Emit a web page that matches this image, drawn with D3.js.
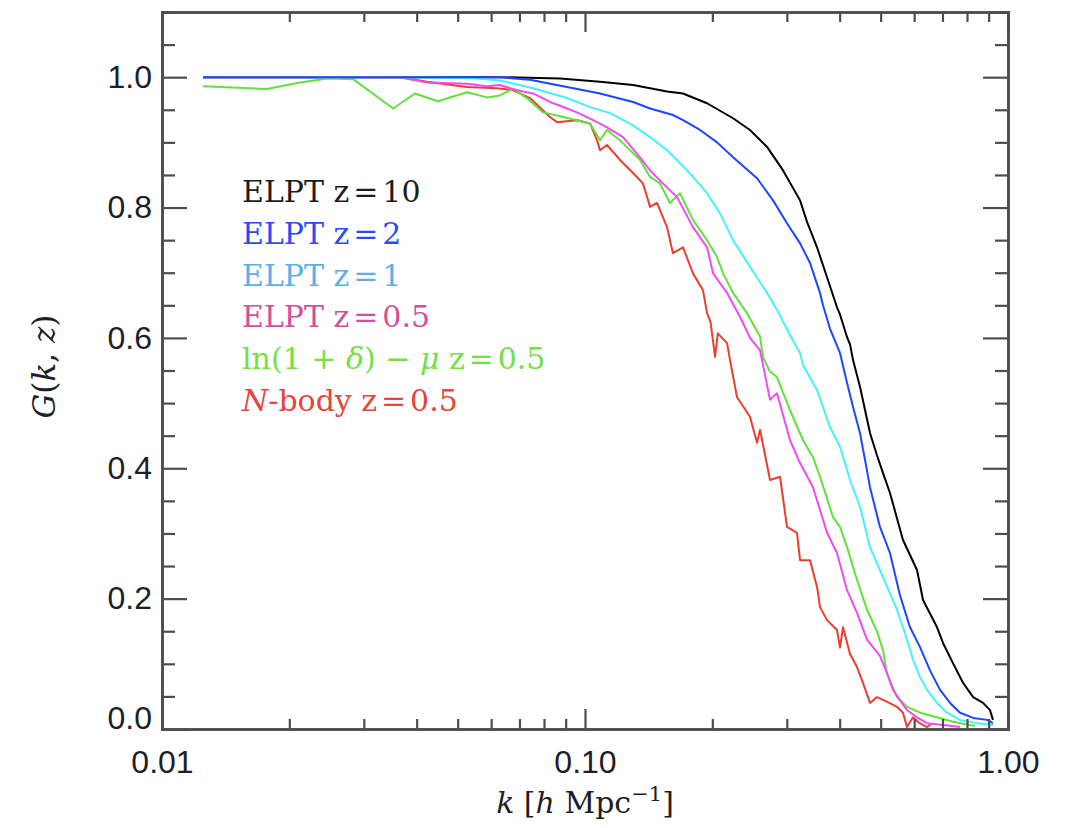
<!DOCTYPE html>
<html>
<head>
<meta charset="utf-8">
<script src="https://cdn.jsdelivr.net/npm/d3@7"></script>
<style>
  body { margin: 0; background: #ffffff; }
  text { white-space: pre; }
</style>
</head>
<body>
<svg id="chart" width="1070" height="828"></svg>
<script>
// Growth/propagator ratio G(k, z) versus wavenumber k [h/Mpc], one [k, G] list per model.
const elpt10 = [[0.0125,1.000],[0.0365,1.000],[0.0629,1.000],[0.0873,0.998],[0.1085,0.993],[0.1299,0.988],[0.1563,0.978],[0.1705,0.975],[0.1943,0.960],[0.2239,0.937],[0.2455,0.919],[0.2694,0.893],[0.2939,0.857],[0.3224,0.811],[0.3349,0.778],[0.3536,0.739],[0.3734,0.693],[0.3942,0.647],[0.4007,0.636],[0.4164,0.601],[0.4232,0.590],[0.4302,0.566],[0.4468,0.525],[0.4718,0.454],[0.4900,0.420],[0.5063,0.393],[0.5260,0.362],[0.5646,0.290],[0.6094,0.244],[0.6297,0.198],[0.6796,0.156],[0.7020,0.132],[0.7410,0.101],[0.7828,0.071],[0.8270,0.049],[0.8729,0.040],[0.9066,0.029],[0.9215,0.014]];

const elpt2 = [[0.0125,1.000],[0.0365,1.000],[0.0629,1.000],[0.0741,0.996],[0.0907,0.985],[0.1085,0.975],[0.1299,0.962],[0.1425,0.952],[0.1614,0.942],[0.1705,0.934],[0.1870,0.919],[0.2052,0.900],[0.2239,0.877],[0.2551,0.845],[0.2783,0.811],[0.3003,0.776],[0.3224,0.745],[0.3404,0.715],[0.3594,0.669],[0.3653,0.650],[0.3795,0.614],[0.4007,0.577],[0.4164,0.531],[0.4302,0.494],[0.4468,0.454],[0.4600,0.410],[0.4718,0.371],[0.4981,0.310],[0.5260,0.270],[0.5555,0.205],[0.5866,0.156],[0.6190,0.126],[0.6541,0.090],[0.6908,0.060],[0.7294,0.040],[0.7701,0.025],[0.8270,0.017],[0.8920,0.014],[0.9215,0.009]];

const elpt1 = [[0.0125,1.000],[0.0365,1.000],[0.0526,0.999],[0.0629,0.995],[0.0754,0.983],[0.0907,0.968],[0.1028,0.954],[0.1146,0.945],[0.1299,0.926],[0.1425,0.908],[0.1563,0.888],[0.1650,0.873],[0.1800,0.847],[0.1943,0.822],[0.2085,0.791],[0.2239,0.750],[0.2455,0.709],[0.2694,0.669],[0.2844,0.643],[0.3053,0.604],[0.3224,0.577],[0.3277,0.558],[0.3536,0.520],[0.3795,0.463],[0.4007,0.433],[0.4232,0.382],[0.4468,0.341],[0.4718,0.279],[0.5063,0.233],[0.5465,0.183],[0.5771,0.137],[0.5963,0.106],[0.6194,0.080],[0.6435,0.060],[0.6796,0.040],[0.7170,0.025],[0.7701,0.014],[0.8447,0.009],[0.9215,0.006]];

const elpt05 = [[0.0125,1.000],[0.0365,1.000],[0.0423,0.992],[0.0526,0.990],[0.0586,0.986],[0.0629,0.988],[0.0691,0.980],[0.0754,0.975],[0.0826,0.962],[0.0907,0.952],[0.0957,0.946],[0.1045,0.934],[0.1127,0.923],[0.1230,0.908],[0.1349,0.877],[0.1425,0.857],[0.1529,0.837],[0.1650,0.816],[0.1800,0.770],[0.1943,0.739],[0.2008,0.699],[0.2167,0.669],[0.2326,0.632],[0.2455,0.600],[0.2593,0.581],[0.2738,0.505],[0.2844,0.515],[0.3053,0.443],[0.3224,0.408],[0.3459,0.371],[0.3734,0.301],[0.3942,0.270],[0.4164,0.213],[0.4395,0.178],[0.4642,0.137],[0.4981,0.112],[0.5174,0.086],[0.5347,0.060],[0.5555,0.044],[0.5771,0.029],[0.6094,0.018],[0.6435,0.009],[0.7294,0.005],[0.7701,0.003]];

const lnDeltaMu05 = [[0.0125,0.986],[0.0177,0.982],[0.0212,0.992],[0.0246,0.998],[0.0283,0.997],[0.0352,0.952],[0.0396,0.975],[0.0449,0.963],[0.0526,0.977],[0.0587,0.969],[0.0629,0.972],[0.0676,0.982],[0.0729,0.968],[0.0796,0.946],[0.0873,0.940],[0.0957,0.934],[0.1028,0.929],[0.1085,0.903],[0.1127,0.919],[0.1210,0.903],[0.1349,0.873],[0.1425,0.847],[0.1504,0.837],[0.1588,0.807],[0.1677,0.822],[0.1800,0.781],[0.1943,0.750],[0.2052,0.724],[0.2120,0.699],[0.2239,0.669],[0.2415,0.638],[0.2593,0.602],[0.2635,0.570],[0.2738,0.548],[0.2844,0.540],[0.3053,0.489],[0.3277,0.443],[0.3459,0.417],[0.3594,0.387],[0.3858,0.325],[0.4007,0.310],[0.4164,0.279],[0.4395,0.229],[0.4642,0.183],[0.4900,0.150],[0.5063,0.121],[0.5174,0.085],[0.5465,0.049],[0.5771,0.034],[0.6190,0.025],[0.6796,0.018],[0.7410,0.011],[0.8132,0.006],[0.8356,0.005]];

const nbody05 = [[0.0125,1.000],[0.0365,1.000],[0.0423,0.993],[0.0526,0.985],[0.0619,0.983],[0.0676,0.980],[0.0741,0.968],[0.0826,0.939],[0.0859,0.931],[0.0957,0.934],[0.1028,0.929],[0.1068,0.903],[0.1085,0.888],[0.1127,0.896],[0.1210,0.873],[0.1299,0.853],[0.1371,0.837],[0.1425,0.801],[0.1480,0.807],[0.1563,0.770],[0.1614,0.730],[0.1705,0.739],[0.1800,0.699],[0.1901,0.673],[0.1943,0.638],[0.1980,0.625],[0.2030,0.571],[0.2060,0.607],[0.2167,0.592],[0.2202,0.566],[0.2288,0.509],[0.2455,0.479],[0.2551,0.439],[0.2593,0.459],[0.2738,0.382],[0.2891,0.387],[0.3003,0.310],[0.3171,0.301],[0.3224,0.259],[0.3404,0.259],[0.3536,0.218],[0.3594,0.187],[0.3734,0.167],[0.3942,0.152],[0.4007,0.125],[0.4073,0.156],[0.4232,0.115],[0.4395,0.095],[0.4540,0.071],[0.4718,0.040],[0.4900,0.049],[0.5174,0.042],[0.5465,0.034],[0.5646,0.025],[0.5771,0.003],[0.5963,0.018],[0.6180,0.009],[0.6435,0.003],[0.6600,0.008]];

// Axis ticks and their labels
const xMajorTicks = [0.01, 0.1, 1];
const xTickLabels = ["0.01", "0.10", "1.00"];
const yMajorTicks = [0, 0.2, 0.4, 0.6, 0.8, 1.0];
const yTickLabels = ["0.0", "0.2", "0.4", "0.6", "0.8", "1.0"];

// Legend entries (underscores mark italic runs)
const legendLabels = ["ELPT z=10", "ELPT z=2", "ELPT z=1", "ELPT z=0.5", "ln(1 + _δ_) − _μ_ z=0.5", "_N_-body z=0.5"];

// ---------------------------------------------------------------------------
const series = [
  { data: elpt10,      line: "#000000", text: "#1c1c1c" },
  { data: elpt2,       line: "#1e46ff", text: "#2c4cf2" },
  { data: elpt1,       line: "#45f0ff", text: "#5cb0ea" },
  { data: elpt05,      line: "#ef4cef", text: "#d24f9b" },
  { data: lnDeltaMu05, line: "#62e13c", text: "#72e046" },
  { data: nbody05,     line: "#ea3e33", text: "#e5463a" }
];
const drawOrder = [0, 5, 4, 3, 2, 1];

const plot = { x0: 162, x1: 1008, y0: 12, y1: 729 };
const x = d3.scaleLog().domain([0.01, 1]).range([plot.x0, plot.x1]);
const y = d3.scaleLinear().domain([0, 1.1]).range([plot.y1, plot.y0]);

const xMinorTicks = [2,3,4,5,6,7,8,9].flatMap(m => [m * 0.01, m * 0.1]).sort((a, b) => a - b);
const yMinorTicks = d3.range(1, 23).map(i => +(i * 0.05).toFixed(2)).filter(v => !yMajorTicks.some(t => Math.abs(t - v) < 1e-9));

const svg = d3.select("#chart");
const axisColor = "#4d4d4d";
const tickFont = "'Liberation Sans', Arial, Helvetica, sans-serif";
const serif = "'DejaVu Serif', serif";

function styleAxis(g) {
  g.attr("font-family", tickFont).attr("font-size", 32);
  g.select(".domain").attr("stroke", axisColor).attr("stroke-width", 2.6).attr("stroke-linecap", "square");
  g.selectAll(".tick line").attr("stroke", axisColor).attr("stroke-width", 2.2);
  g.selectAll(".tick text").attr("fill", "#1e1e26");
}

// Curves
const line = d3.line().x(d => x(d[0])).y(d => y(d[1]));
const curves = svg.append("g").attr("fill", "none").attr("stroke-width", 2).attr("stroke-linejoin", "round");
drawOrder.forEach(i => {
  curves.append("path").datum(series[i].data).attr("d", line).attr("stroke", series[i].line);
});

// Frame with inward-pointing ticks on all four sides
const axes = svg.append("g");
axes.append("g").attr("transform", `translate(0,${plot.y1})`)
  .call(d3.axisBottom(x).tickValues(xMinorTicks).tickFormat("").tickSize(-10).tickSizeOuter(0)).call(styleAxis);
axes.append("g").attr("transform", `translate(0,${plot.y1})`)
  .call(d3.axisBottom(x).tickValues(xMajorTicks).tickFormat((d, i) => xTickLabels[i]).tickSize(-20).tickSizeOuter(0).tickPadding(21)).call(styleAxis);
axes.append("g").attr("transform", `translate(0,${plot.y0})`)
  .call(d3.axisTop(x).tickValues(xMinorTicks).tickFormat("").tickSize(-10).tickSizeOuter(0)).call(styleAxis);
axes.append("g").attr("transform", `translate(0,${plot.y0})`)
  .call(d3.axisTop(x).tickValues(xMajorTicks).tickFormat("").tickSize(-20).tickSizeOuter(0)).call(styleAxis);
axes.append("g").attr("transform", `translate(${plot.x0},0)`)
  .call(d3.axisLeft(y).tickValues(yMinorTicks).tickFormat("").tickSize(-13).tickSizeOuter(0)).call(styleAxis);
const yLabelAxis = axes.append("g").attr("transform", `translate(${plot.x0},0)`)
  .call(d3.axisLeft(y).tickValues(yMajorTicks).tickFormat((d, i) => yTickLabels[i]).tickSize(-25).tickSizeOuter(0).tickPadding(10)).call(styleAxis);
// the bottom label sits on the axis line rather than centred on its tick
yLabelAxis.selectAll(".tick text").filter(d => d === 0).attr("dy", "-0.02em");
axes.append("g").attr("transform", `translate(${plot.x1},0)`)
  .call(d3.axisRight(y).tickValues(yMinorTicks).tickFormat("").tickSize(-13).tickSizeOuter(0)).call(styleAxis);
axes.append("g").attr("transform", `translate(${plot.x1},0)`)
  .call(d3.axisRight(y).tickValues(yMajorTicks).tickFormat("").tickSize(-25).tickSizeOuter(0)).call(styleAxis);

// Rich text: underscores toggle italic, "=" gets a little extra room
function richText(textSel, str) {
  str.split("_").forEach((part, i) => {
    const italic = i % 2 === 1;
    part.split("=").forEach((seg, j) => {
      if (j > 0) textSel.append("tspan").attr("dx", "0.13em").text("=");
      if (seg.length) {
        textSel.append("tspan")
          .attr("dx", j > 0 ? "0.13em" : null)
          .attr("font-style", italic ? "italic" : null)
          .text(seg);
      }
    });
  });
}

// Legend
const legend = svg.append("g").attr("font-family", serif).attr("font-size", 30);
legendLabels.forEach((lab, i) => {
  const t = legend.append("text")
    .attr("x", 242)
    .attr("y", 202 + i * 41.8)
    .attr("fill", series[i].text);
  richText(t, lab);
});

// Axis titles
const yTitle = svg.append("text")
  .attr("transform", `translate(55,${(plot.y0 + plot.y1) / 2 - 4}) rotate(-90)`)
  .attr("text-anchor", "middle")
  .attr("font-family", serif).attr("font-size", 31).attr("fill", "#1e1e26");
richText(yTitle, "_G_(_k_, _z_)");

const xTitle = svg.append("text")
  .attr("x", (plot.x0 + plot.x1) / 2)
  .attr("y", 813)
  .attr("text-anchor", "middle")
  .attr("font-family", serif).attr("font-size", 30).attr("fill", "#1e1e26");
richText(xTitle, "_k_ [_h_ Mpc");
xTitle.append("tspan").attr("font-size", 21).attr("dy", "-0.55em").text("−1");
xTitle.append("tspan").attr("dy", "0.38em").text("]");
</script>
</body>
</html>
